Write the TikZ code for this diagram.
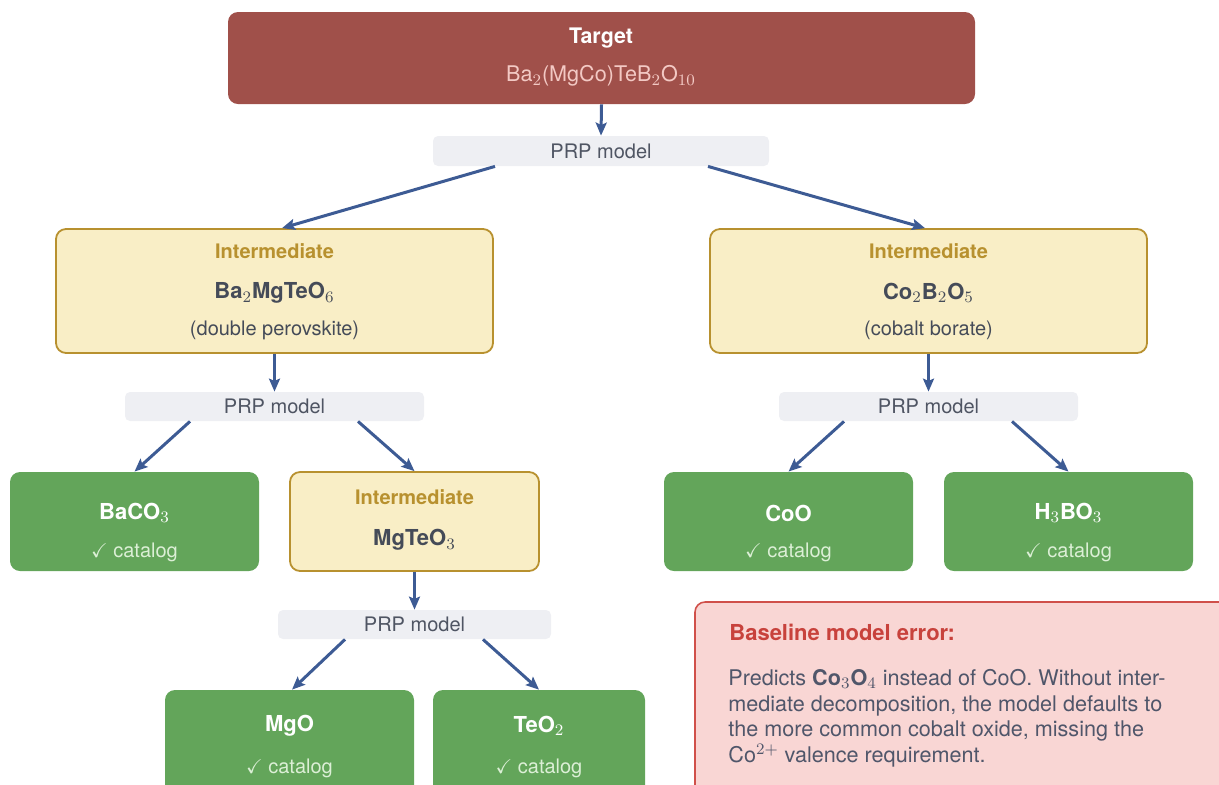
\documentclass[tikz,border=0pt]{standalone}
\usepackage{amssymb}
\usepackage[no-math]{fontspec}
\setmainfont{TeX Gyre Heros}
\usetikzlibrary{arrows.meta}

\definecolor{tgtfill}{HTML}{A0504A}
\definecolor{tgtsub}{HTML}{F3C9C4}
\definecolor{prpfill}{HTML}{EEEFF3}
\definecolor{prptext}{HTML}{4F5563}
\definecolor{intfill}{HTML}{F9EEC6}
\definecolor{intline}{HTML}{B8912F}
\definecolor{formtext}{HTML}{454B58}
\definecolor{bodytext}{HTML}{50566A}
\definecolor{grnfill}{HTML}{63A55A}
\definecolor{grnsub}{HTML}{DCEFD6}
\definecolor{arrcol}{HTML}{3D5B94}
\definecolor{errfill}{HTML}{F9D6D4}
\definecolor{errline}{HTML}{D0504A}
\definecolor{errhead}{HTML}{C8423C}

\tikzset{
  box/.style={rectangle, rounded corners=5pt, inner sep=0pt},
  targetbox/.style={box, fill=tgtfill},
  prpbox/.style={rectangle, rounded corners=2.5pt, inner sep=0pt, fill=prpfill},
  interbox/.style={box, fill=intfill, draw=intline, line width=0.9pt},
  catbox/.style={box, fill=grnfill},
  errbox/.style={box, fill=errfill, draw=errline, line width=0.8pt},
  lbl/.style={inner sep=0pt, font=\fontsize{10}{12}\selectfont},
  prplbl/.style={lbl, text=prptext},
  interlbl/.style={lbl, text=intline, font=\fontsize{10}{12}\selectfont\bfseries},
  formula/.style={lbl, text=formtext, font=\fontsize{11}{13}\selectfont\bfseries},
  subtitle/.style={lbl, text=formtext},
  catformula/.style={lbl, text=white, font=\fontsize{11}{13}\selectfont\bfseries},
  catlbl/.style={lbl, text=grnsub},
  arw/.style={draw=arrcol, line width=1.5pt, -{Stealth[length=6.5pt, width=5.5pt, inset=1.2pt]}},
}

\begin{document}
\begin{tikzpicture}[x=0.5pt, y=-0.5pt]
\clip (0,0) rectangle (1219,784);

% target compound
\node[targetbox, minimum width=373.5pt, minimum height=46pt] (tgt) at (601.5,58) {};
\node[lbl, text=white, font=\fontsize{10.7}{12.8}\selectfont\bfseries] (tgtA) at (601,38) {Target};
\node[lbl, text=tgtsub, font=\fontsize{10.8}{13}\selectfont] (tgtB) at (601,76) {Ba$_2$(MgCo)TeB$_2$O$_{10}$};

% first decomposition step
\node[prpbox, minimum width=168pt, minimum height=15pt] (prpA) at (601,151) {};
\node[prplbl] (prpAt) at (601,151) {PRP model};

% intermediates
\node[interbox, minimum width=218.5pt, minimum height=62pt] (intL) at (274.5,291) {};
\node[interlbl] (intLa) at (274.5,251) {Intermediate};
\node[formula] (intLb) at (274.5,293) {Ba$_2$MgTeO$_6$};
\node[subtitle] (intLc) at (274.5,330) {(double perovskite)};

\node[interbox, minimum width=218.5pt, minimum height=62pt] (intR) at (928.5,291) {};
\node[interlbl] (intRa) at (928.5,251) {Intermediate};
\node[formula] (intRb) at (928.5,293) {Co$_2$B$_2$O$_5$};
\node[subtitle] (intRc) at (928.5,330) {(cobalt borate)};

% second level
\node[prpbox, minimum width=149.5pt, minimum height=14.5pt] (prpL) at (274.5,406.5) {};
\node[prplbl] (prpLt) at (274.5,406.5) {PRP model};
\node[prpbox, minimum width=149.5pt, minimum height=14.5pt] (prpR) at (928.5,406.5) {};
\node[prplbl] (prpRt) at (928.5,406.5) {PRP model};

\node[catbox, minimum width=124.5pt, minimum height=49.5pt] (baco) at (134.5,521.5) {};
\node[catformula] (bacoa) at (134.5,513) {BaCO$_3$};
\node[catlbl] (bacob) at (134.5,552) {$\checkmark$ catalog};

\node[interbox, minimum width=124.5pt, minimum height=49.5pt] (mgte) at (414.5,521.5) {};
\node[interlbl] (mgtea) at (414.5,497) {Intermediate};
\node[formula] (mgteb) at (414.5,540) {MgTeO$_3$};

\node[catbox, minimum width=124.5pt, minimum height=49.5pt] (coo) at (788.5,521.5) {};
\node[catformula] (cooa) at (788.5,513) {CoO};
\node[catlbl] (coob) at (788.5,552) {$\checkmark$ catalog};

\node[catbox, minimum width=124.5pt, minimum height=49.5pt] (hbo) at (1068.5,521.5) {};
\node[catformula] (hboa) at (1068.5,513) {H$_3$BO$_3$};
\node[catlbl] (hbob) at (1068.5,552) {$\checkmark$ catalog};

% third level
\node[prpbox, minimum width=136.5pt, minimum height=14.5pt] (prpM) at (414.5,624.5) {};
\node[prplbl] (prpMt) at (414.5,624.5) {PRP model};

\node[catbox, minimum width=124.5pt, minimum height=55pt] (mgo) at (289.5,745) {};
\node[catformula] (mgoa) at (289.5,726) {MgO};
\node[catlbl] (mgob) at (289.5,768) {$\checkmark$ catalog};

\node[catbox, minimum width=106pt, minimum height=55pt] (teo) at (539,745) {};
\node[catformula] (teoa) at (539,726) {TeO$_2$};
\node[catlbl] (teob) at (539,768) {$\checkmark$ catalog};

% baseline error note
\node[errbox, minimum width=267.5pt, minimum height=99pt] (err) at (962.5,701) {};
\node[lbl, anchor=west, text=errhead, font=\fontsize{11}{13}\selectfont\bfseries] (errh) at (729,632) {Baseline model error:};
\node[lbl, anchor=north west, align=left, text=bodytext, font=\fontsize{10.8}{12.85}\selectfont] (errt) at (728,669)
  {Predicts \textbf{Co}$_3$\textbf{O}$_4$ instead of CoO. Without inter-\\
   mediate decomposition, the model defaults to\\
   the more common cobalt oxide, missing the\\
   Co$^{2+}$ valence requirement.};

% connectors
\draw[arw] (tgt.south) -- (prpA.north);
\draw[arw] ([xshift=-53pt]prpA.south) -- ([xshift=3.75pt]intL.north);
\draw[arw] ([xshift=53.5pt]prpA.south) -- ([xshift=-1.75pt]intR.north);
\draw[arw] (intL.south) -- (prpL.north);
\draw[arw] ([xshift=-42.25pt]prpL.south) -- (baco.north);
\draw[arw] ([xshift=41.75pt]prpL.south) -- (mgte.north);
\draw[arw] (intR.south) -- (prpR.north);
\draw[arw] ([xshift=-42.25pt]prpR.south) -- (coo.north);
\draw[arw] ([xshift=41.75pt]prpR.south) -- (hbo.north);
\draw[arw] (mgte.south) -- (prpM.north);
\draw[arw] ([xshift=-34.75pt]prpM.south) -- ([xshift=1.25pt]mgo.north);
\draw[arw] ([xshift=34.25pt]prpM.south) -- (teo.north);
\end{tikzpicture}
\end{document}
